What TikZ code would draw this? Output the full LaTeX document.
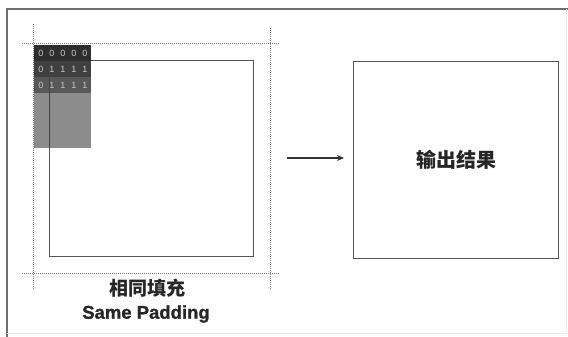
\documentclass[tikz,border=0pt]{standalone}
\usepackage{fontspec}
\setmainfont{Liberation Sans}[BoldFont={Liberation Sans Bold}]
\newfontfamily\enb{Liberation Sans Bold}[FakeBold=1.2]
\newfontfamily\cjk{Noto Sans CJK SC}
\usetikzlibrary{arrows.meta}
\definecolor{framegray}{HTML}{6E6E6E}
\definecolor{boxgray}{HTML}{555555}
\definecolor{dotgray}{HTML}{777777}
\definecolor{rowA}{HTML}{2E2E2E}
\definecolor{rowB}{HTML}{404040}
\definecolor{rowC}{HTML}{585858}
\definecolor{rowD}{HTML}{8C8C8C}
\definecolor{digit}{HTML}{C8C8C8}
\tikzset{
  sqbox/.style={draw=boxgray, line width=1pt, anchor=north west, inner sep=0pt},
  guide/.style={draw=dotgray, line width=1pt, dash pattern=on 1pt off 1pt},
  digitrow/.style={text=digit, font=\fontsize{9}{10}\selectfont, inner sep=0pt},
  label/.style={text=black!85, inner sep=0pt},
}
\begin{document}
\begin{tikzpicture}[x=1pt,y=-1pt]
\useasboundingbox (0,0) rectangle (568,337);
% outer frame
\draw[draw=framegray, line width=1.1pt] (7,337) -- (7,9) -- (568,9);
\draw[draw=black!8, line width=0.8pt] (566,9) -- (566,333) -- (7,333);
% guides
\draw[guide] (33,24) -- (33,290);
\draw[guide] (270,28) -- (270,290);
\draw[guide] (22,44) -- (280,44);
\draw[guide] (22,273) -- (280,273);
% input square
\node[sqbox, minimum width=204pt, minimum height=196pt] (in) at (49,60) {};
% padded kernel block
\fill[rowD] (34,45) rectangle (91,148);
\fill[rowA] (34,45) rectangle (91,61);
\fill[rowB] (34,61) rectangle (91,77);
\fill[rowC] (34,77) rectangle (91,93);
\draw[draw=boxgray!80!black, line width=1pt] (49,68) -- (49,148);
\foreach \x [count=\i] in {41,52,63,74,85} {
  \node[digitrow] (r1d\i) at (\x,53) {0};
}
\node[digitrow] (r2d1) at (41,69) {0};
\node[digitrow] (r3d1) at (41,85) {0};
\foreach \x [count=\i from 2] in {52,63,74,85} {
  \node[digitrow] (r2d\i) at (\x,69) {1};
  \node[digitrow] (r3d\i) at (\x,85) {1};
}
% labels
\node[label, font=\cjk\bfseries\fontsize{19}{20}\selectfont] (zh) at (147,288) {相同填充};
\node[label, font=\enb\fontsize{18.5}{20}\selectfont] (en) at (146,314) {Same Padding};
% output box
\node[sqbox, minimum width=205pt, minimum height=197pt] (out) at (353,61) {};
\node[label, font=\cjk\bfseries\fontsize{20}{22}\selectfont] (outtxt) at (out.center) {输出结果};
% arrow
\coordinate (a0) at (287,158);
\coordinate (a1) at (344,158);
\draw[draw=black!80, line width=1.3pt, -{Stealth[length=7pt,width=6pt]}] (a0) -- (a1);
\end{tikzpicture}
\end{document}
